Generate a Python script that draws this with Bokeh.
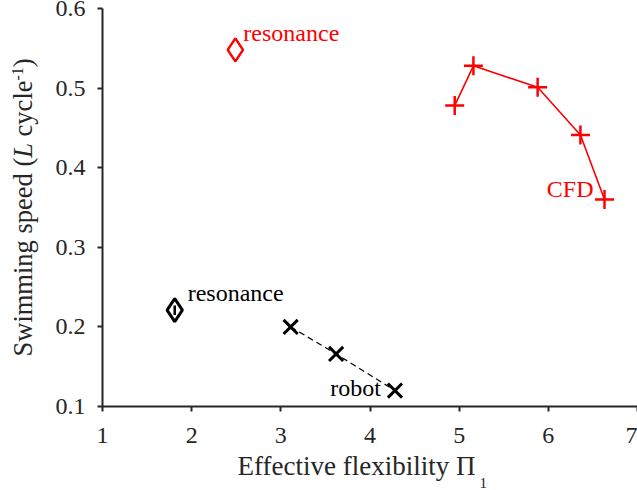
from bokeh.plotting import figure
from bokeh.models import Range1d, FixedTicker, Label
from bokeh.embed import file_html
from bokeh.resources import INLINE
import math

# Simulation (CFD) results
cfd_flex = [4.95, 5.16, 5.88, 6.36, 6.63]
cfd_speed = [0.478, 0.528, 0.501, 0.441, 0.360]

# Robot experiments
robot_flex = [3.11, 3.62, 4.28]
robot_speed = [0.200, 0.166, 0.120]

# Resonance predictions
cfd_res_flex = [2.49]
cfd_res_speed = [0.548]
robot_res_flex = [1.81]
robot_res_speed = [0.221]
robot_res_err = [0.006]

x_ticks = [1, 2, 3, 4, 5, 6, 7]
y_ticks = [0.1, 0.2, 0.3, 0.4, 0.5, 0.6]
X_MIN, X_MAX = 1, 7
Y_MIN, Y_MAX = 0.1, 0.6

SERIF = "Liberation Serif"
AXIS_COLOR = "#262626"

# Canvas size and where the axes box sits on it (pixels from the top-left)
W, H = 637, 490
BOX_L, BOX_R, BOX_T, BOX_B = 102, 637, 8, 406

# The frame fills the whole canvas; ranges are widened so the axes box
# lands at the pixel positions above and the titles are not clipped.
sx = (BOX_R - BOX_L) / (X_MAX - X_MIN)
sy = (BOX_B - BOX_T) / (Y_MAX - Y_MIN)
x_range = Range1d(X_MIN - BOX_L / sx, X_MAX + (W - BOX_R) / sx)
y_range = Range1d(Y_MIN - (H - BOX_B) / sy, Y_MAX + BOX_T / sy)


def dx(px):
    return X_MIN + (px - BOX_L) / sx


def dy(py):
    return Y_MAX - (py - BOX_T) / sy


p = figure(width=W, height=H, output_backend="svg", toolbar_location=None,
           x_range=x_range, y_range=y_range, title_location=None,
           min_border=0, min_border_left=0, min_border_right=0,
           min_border_top=0, min_border_bottom=0)
p.outline_line_color = None
p.grid.visible = False
p.background_fill_color = "white"
p.border_fill_color = "white"

p.xaxis.fixed_location = Y_MIN
p.yaxis.fixed_location = X_MIN
p.xaxis.bounds = (X_MIN, X_MAX)
p.yaxis.bounds = (Y_MIN, Y_MAX)

for ax in (p.xaxis[0], p.yaxis[0]):
    ax.axis_line_width = 2
    ax.axis_line_color = AXIS_COLOR
    ax.major_tick_line_color = AXIS_COLOR
    ax.major_tick_line_width = 2
    ax.major_tick_out = 5
    ax.major_tick_in = 0
    ax.minor_tick_line_color = None
    ax.major_label_text_font = SERIF
    ax.major_label_text_font_size = "24px"
    ax.major_label_text_color = AXIS_COLOR

p.xaxis.major_label_standoff = 16
p.yaxis.major_label_standoff = 12
p.xaxis.ticker = FixedTicker(ticks=x_ticks)
p.yaxis.ticker = FixedTicker(ticks=y_ticks)
p.yaxis.major_label_overrides = {v: f"{v:.1f}" for v in y_ticks}

# CFD curve
p.line(cfd_flex, cfd_speed, line_color="red", line_width=1.6)
p.scatter(cfd_flex, cfd_speed, marker="cross", size=19, line_color="red", line_width=2.5)

# Robot curve
p.line(robot_flex, robot_speed, line_color="black", line_width=1.2, line_dash="6 4")
p.scatter(robot_flex, robot_speed, marker="x", size=20, line_color="black", line_width=3)

# Resonance markers
p.scatter(cfd_res_flex, cfd_res_speed, marker="diamond", size=23,
          line_color="red", fill_color="white", line_width=2.5)
p.scatter(robot_res_flex, robot_res_speed, marker="diamond", size=23,
          line_color="black", fill_color="white", line_width=3)
p.segment(x0=robot_res_flex, x1=robot_res_flex,
          y0=[y - e for y, e in zip(robot_res_speed, robot_res_err)],
          y1=[y + e for y, e in zip(robot_res_speed, robot_res_err)],
          line_color="black", line_width=2.5)

# raise applied to alphabetic-baseline labels, as a fraction of font size
LIFT = 0.42


def note(x, y, text, color, ox, oy, align="left", size=24):
    p.add_layout(Label(x=x, y=y, text=text, x_offset=ox, y_offset=oy + LIFT * size,
                       text_font=SERIF, text_font_size=f"{size}px", text_color=color,
                       text_align=align, text_baseline="alphabetic"))


note(cfd_res_flex[0], cfd_res_speed[0], "resonance", "red", 8, 7)
note(robot_res_flex[0], robot_res_speed[0], "resonance", "black", 13, 7)
note(robot_flex[-1], robot_speed[-1], "robot", "black", -14, -7, "right")
note(cfd_flex[-1], cfd_speed[-1], "CFD", "red", -11, 0, "right")


# Axis titles, built from pieces so that italics and scripts can be set
def piece(px, py, text, size, style="normal", angle=0.0):
    if angle:
        px -= LIFT * size
    else:
        py -= LIFT * size
    p.add_layout(Label(x=dx(px), y=dy(py), text=text, angle=angle,
                       text_font=SERIF, text_font_size=f"{size}px", text_font_style=style,
                       text_color=AXIS_COLOR, text_align="left",
                       text_baseline="alphabetic"))


# x title
piece(237, 477, "Effective flexibility \u03a0", 27)
piece(479, 489, "1", 15)

# y title (rotated, reading upwards); pieces chained by Times-metric widths
up = math.pi / 2
bx = 34
fs = 26.5
y0 = 356
y_L = y0 - 7.5 * fs            # after "Swimming speed ("
y_cyc = y_L - (0.556 + 0.25) * fs  # after "L" and a space
y_sup = y_cyc - 2.11 * fs       # after "cycle"
y_par = y_sup - 0.833 * 16      # after "-1"
piece(bx, y0, "Swimming speed (", fs, angle=up)
piece(bx, y_L, "L", fs, "italic", angle=up)
piece(bx, y_cyc, "cycle", fs, angle=up)
piece(bx - 10, y_sup, "-1", 16, angle=up)
piece(bx, y_par, ")", fs, angle=up)

open("out.html", "w").write(file_html(p, INLINE))
